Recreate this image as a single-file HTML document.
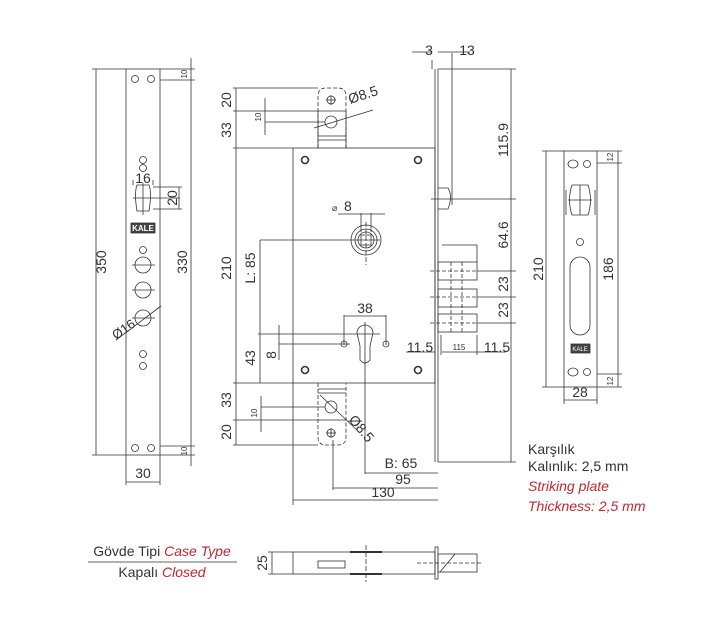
<!DOCTYPE html>
<html><head><meta charset="utf-8"><style>
html,body{margin:0;padding:0;background:#fff;}
svg{display:block}
text{font-family:"Liberation Sans",sans-serif;fill:#333;}
.r{fill:#c0282f;font-style:italic}
</style></head><body>
<svg width="720" height="622" viewBox="0 0 720 622" xmlns="http://www.w3.org/2000/svg">
<g stroke="#333" stroke-width="0.8" fill="none">
<!-- LEFT FACEPLATE -->
<rect x="126" y="69" width="34" height="386"/>
<line x1="92" y1="69" x2="126" y2="69"/><line x1="92" y1="455" x2="126" y2="455"/>
<line x1="96" y1="69" x2="96" y2="455"/>
<line x1="160" y1="80" x2="195" y2="80"/><line x1="160" y1="446" x2="195" y2="446"/>
<line x1="160" y1="69" x2="195" y2="69"/><line x1="160" y1="455" x2="195" y2="455"/>
<line x1="191" y1="58" x2="191" y2="466"/>
<line x1="126" y1="455" x2="126" y2="485"/><line x1="160" y1="455" x2="160" y2="485"/>
<line x1="126" y1="482" x2="160" y2="482"/>
<g>
<circle cx="135" cy="79" r="3.5"/><circle cx="151" cy="79" r="3.5"/>
<circle cx="135" cy="448" r="3.5"/><circle cx="151" cy="448" r="3.5"/>
<circle cx="143" cy="160" r="3.5"/><circle cx="143" cy="168" r="3.5"/>
<circle cx="143" cy="250" r="3.5"/>
<circle cx="143" cy="354" r="3.5"/><circle cx="143" cy="366" r="3.5"/>
</g>
<path d="M137,185 L149,185 Q152,193 149,211 L137,211 Q134,193 137,185 Z"/>
<line x1="133" y1="198" x2="180" y2="198"/><line x1="143" y1="183" x2="143" y2="215"/>
<line x1="133" y1="185" x2="133" y2="180"/><line x1="153" y1="185" x2="153" y2="180"/>
<line x1="153" y1="187" x2="182" y2="187"/><line x1="153" y1="209" x2="182" y2="209"/>
<line x1="179" y1="187" x2="179" y2="209"/>
<circle cx="143" cy="265" r="8"/><circle cx="143" cy="290" r="8"/><circle cx="143" cy="318" r="8"/>
<line x1="132" y1="265" x2="155" y2="265"/><line x1="132" y1="290" x2="155" y2="290"/><line x1="132" y1="318" x2="155" y2="318"/>
<line x1="116" y1="340" x2="161" y2="306"/>
<rect x="131" y="223" width="24" height="10" fill="#444"/>
<!-- MAIN LOCK BODY -->
<rect x="293" y="148" width="142" height="235"/>
<line x1="435" y1="69" x2="435" y2="462"/><line x1="438" y1="69" x2="438" y2="462"/>
<line x1="438" y1="69" x2="516" y2="69"/><line x1="438" y1="462" x2="516" y2="462"/>
<line x1="452" y1="53" x2="452" y2="205"/><line x1="432" y1="60" x2="432" y2="69"/>
<line x1="412" y1="52" x2="432" y2="52"/><line x1="438" y1="52" x2="470" y2="52"/>
<path d="M438,188 L448,188 Q453,196 448,209 L438,209"/>
<line x1="431" y1="199" x2="516" y2="199"/>
<line x1="511" y1="69" x2="511" y2="462"/>
<!-- bolts -->
<rect x="438" y="262" width="39" height="18"/>
<rect x="438" y="289" width="39" height="18"/>
<rect x="438" y="314" width="39" height="18"/>
<line x1="477" y1="271" x2="516" y2="271"/><line x1="477" y1="297" x2="516" y2="297"/><line x1="477" y1="323" x2="516" y2="323"/>
<line x1="442" y1="245" x2="477" y2="245"/><line x1="477" y1="245" x2="477" y2="262"/>
<line x1="442" y1="352" x2="506" y2="352"/>
<line x1="441" y1="335" x2="441" y2="355"/><line x1="477" y1="335" x2="477" y2="355"/>
<line x1="406" y1="352" x2="435" y2="352"/>
<g stroke-dasharray="4,2">
<line x1="430" y1="271" x2="477" y2="271"/><line x1="430" y1="297" x2="477" y2="297"/><line x1="430" y1="323" x2="477" y2="323"/>
<line x1="451" y1="262" x2="451" y2="332"/><line x1="462" y1="262" x2="462" y2="332"/>
</g>
<!-- strike tabs -->
<path d="M318,148 L318,96 Q318,88 326,88 L338,88 Q346,88 346,96 L346,148" stroke-dasharray="4,2"/>
<line x1="318" y1="111" x2="346" y2="111"/><line x1="318" y1="111" x2="318" y2="148"/><line x1="346" y1="111" x2="346" y2="148"/>
<line x1="318" y1="136" x2="346" y2="136"/><line x1="318" y1="140" x2="346" y2="140"/>
<circle cx="331" cy="100" r="4"/><line x1="326" y1="100" x2="336" y2="100"/><line x1="331" y1="95" x2="331" y2="105"/>
<circle cx="331" cy="122" r="6"/>
<line x1="314" y1="128" x2="373" y2="110"/>
<path d="M318,383 L318,437 Q318,445 326,445 L338,445 Q346,445 346,437 L346,383" stroke-dasharray="4,2"/>
<line x1="318" y1="420" x2="346" y2="420"/>
<line x1="318" y1="389" x2="346" y2="389"/><line x1="318" y1="393" x2="346" y2="393"/>
<circle cx="331" cy="407" r="6"/>
<circle cx="331" cy="433" r="4"/><line x1="326" y1="433" x2="336" y2="433"/><line x1="331" y1="428" x2="331" y2="438"/>
<line x1="320" y1="395" x2="360" y2="433"/>
<!-- left dims -->
<line x1="236" y1="88" x2="236" y2="445"/>
<line x1="233" y1="88" x2="318" y2="88"/><line x1="233" y1="111" x2="318" y2="111"/>
<line x1="233" y1="148" x2="293" y2="148"/><line x1="233" y1="383" x2="293" y2="383"/>
<line x1="233" y1="420" x2="318" y2="420"/><line x1="233" y1="445" x2="318" y2="445"/>
<line x1="265" y1="98" x2="265" y2="135"/><line x1="265" y1="122" x2="325" y2="122"/>
<line x1="261" y1="396" x2="261" y2="432"/><line x1="261" y1="407" x2="325" y2="407"/>
<line x1="260" y1="240" x2="260" y2="383"/><line x1="260" y1="240" x2="380" y2="240"/>
<line x1="258" y1="334" x2="380" y2="334"/>
<line x1="279" y1="325" x2="279" y2="360"/><line x1="279" y1="344" x2="350" y2="344"/>
<line x1="293" y1="383" x2="293" y2="505"/>
<!-- spindle -->
<circle cx="366" cy="240" r="15"/><circle cx="366" cy="240" r="11"/><circle cx="366" cy="240" r="8"/>
<rect x="361" y="235" width="10" height="10"/>
<line x1="361" y1="213" x2="361" y2="232"/><line x1="371" y1="213" x2="371" y2="232"/>
<line x1="338" y1="214" x2="385" y2="214"/>
<line x1="366" y1="222" x2="366" y2="265" stroke-dasharray="5,2"/>
<!-- cylinder -->
<path d="M357,333 A8,8 0 1 1 373,333 L370,346 L370,360 Q365,366 360,360 L360,346 Z"/>
<line x1="344" y1="315" x2="344" y2="345"/><line x1="386" y1="315" x2="386" y2="345"/>
<line x1="344" y1="316" x2="386" y2="316"/>
<circle cx="344" cy="344" r="3"/><circle cx="386" cy="344" r="3"/>
<line x1="365" y1="322" x2="365" y2="474"/>
<line x1="365" y1="473" x2="438" y2="473"/>
<line x1="333" y1="440" x2="333" y2="490"/>
<line x1="333" y1="488" x2="438" y2="488"/>
<line x1="293" y1="500" x2="438" y2="500"/>
<!-- body holes -->
<circle cx="305" cy="160" r="3.5" stroke-width="1.6"/><circle cx="418" cy="160" r="3.5" stroke-width="1.6"/>
<circle cx="305" cy="370" r="3.5" stroke-width="1.6"/><circle cx="418" cy="370" r="3.5" stroke-width="1.6"/>
<!-- RIGHT STRIKE PLATE -->
<rect x="564" y="151" width="33" height="236"/>
<line x1="542" y1="151" x2="564" y2="151"/><line x1="542" y1="387" x2="564" y2="387"/>
<line x1="546" y1="151" x2="546" y2="387"/>
<line x1="597" y1="163" x2="622" y2="163"/><line x1="597" y1="374" x2="622" y2="374"/>
<line x1="597" y1="151" x2="622" y2="151"/><line x1="597" y1="387" x2="622" y2="387"/>
<line x1="618" y1="151" x2="618" y2="387"/>
<line x1="564" y1="387" x2="564" y2="404"/><line x1="597" y1="387" x2="597" y2="404"/>
<line x1="564" y1="400" x2="597" y2="400"/>
<ellipse cx="573" cy="164" rx="5" ry="4"/><circle cx="587" cy="164" r="3.5"/>
<ellipse cx="573" cy="372" rx="5" ry="4"/><circle cx="587" cy="372" r="3.5"/>
<path d="M572,185 L588,185 Q593,200 588,215 L572,215 Q567,200 572,185 Z"/>
<line x1="568" y1="200" x2="592" y2="200"/><line x1="580" y1="185" x2="580" y2="215"/>
<circle cx="580" cy="242" r="3.5"/>
<path d="M570,267 A10,10 0 0 1 590,267 L590,325 A10,10 0 0 1 570,325 Z"/>
<line x1="566" y1="190" x2="566" y2="215"/><line x1="595" y1="190" x2="595" y2="215"/>
<rect x="571" y="344" width="19" height="9" fill="#444"/>
<!-- SIDE VIEW -->
<rect x="293" y="552" width="142" height="22"/>
<line x1="268" y1="552" x2="293" y2="552"/><line x1="268" y1="574" x2="293" y2="574"/>
<line x1="272" y1="552" x2="272" y2="574"/>
<rect x="435" y="547" width="3" height="32"/>
<rect x="438" y="554" width="39" height="18"/>
<rect x="318" y="561" width="27" height="7"/>
<line x1="440" y1="572" x2="455" y2="554"/>
<line x1="366" y1="545" x2="366" y2="582" stroke-dasharray="5,2"/>
<line x1="417" y1="563" x2="482" y2="563" stroke-dasharray="4,2"/>
<line x1="350" y1="552" x2="382" y2="552" stroke-width="2"/><line x1="350" y1="574" x2="382" y2="574" stroke-width="2"/>
<line x1="88" y1="562" x2="237" y2="562"/>
</g>
<g font-size="14">
<text x="101" y="262" transform="rotate(-90 101 262)" text-anchor="middle" dy="5">350</text>
<text x="182" y="262" transform="rotate(-90 182 262)" text-anchor="middle" dy="5">330</text>
<text x="143" y="478" text-anchor="middle">30</text>
<text x="143" y="183" text-anchor="middle">16</text>
<text x="172" y="198" transform="rotate(-90 172 198)" text-anchor="middle" dy="5">20</text>
<text x="116" y="340" transform="rotate(-35 116 340)" font-size="13">Ø16</text>
<text x="226" y="100" transform="rotate(-90 226 100)" text-anchor="middle" dy="5">20</text>
<text x="226" y="130" transform="rotate(-90 226 130)" text-anchor="middle" dy="5">33</text>
<text x="226" y="268" transform="rotate(-90 226 268)" text-anchor="middle" dy="5">210</text>
<text x="250" y="268" transform="rotate(-90 250 268)" text-anchor="middle" dy="5">L: 85</text>
<text x="250" y="358" transform="rotate(-90 250 358)" text-anchor="middle" dy="5">43</text>
<text x="271" y="355" transform="rotate(-90 271 355)" text-anchor="middle" dy="5">8</text>
<text x="226" y="400" transform="rotate(-90 226 400)" text-anchor="middle" dy="5">33</text>
<text x="226" y="432" transform="rotate(-90 226 432)" text-anchor="middle" dy="5">20</text>
<text x="350" y="104" transform="rotate(-18 350 104)">Ø8.5</text>
<text x="348" y="420" transform="rotate(50 348 420)">Ø8.5</text>
<text x="344" y="211">8</text><text x="332" y="211" font-size="9">⌀</text>
<text x="365" y="313" text-anchor="middle">38</text>
<text x="420" y="352" text-anchor="middle">11.5</text>
<text x="497" y="352" text-anchor="middle">11.5</text>
<text x="429" y="55" text-anchor="middle">3</text>
<text x="467" y="55" text-anchor="middle">13</text>
<text x="503" y="140" transform="rotate(-90 503 140)" text-anchor="middle" dy="5">115.9</text>
<text x="503" y="235" transform="rotate(-90 503 235)" text-anchor="middle" dy="5">64.6</text>
<text x="503" y="284" transform="rotate(-90 503 284)" text-anchor="middle" dy="5">23</text>
<text x="503" y="310" transform="rotate(-90 503 310)" text-anchor="middle" dy="5">23</text>
<text x="401" y="468" text-anchor="middle">B: 65</text>
<text x="403" y="484" text-anchor="middle">95</text>
<text x="383" y="497" text-anchor="middle">130</text>
<text x="538" y="269" transform="rotate(-90 538 269)" text-anchor="middle" dy="5">210</text>
<text x="608" y="269" transform="rotate(-90 608 269)" text-anchor="middle" dy="5">186</text>
<text x="580" y="397" text-anchor="middle">28</text>
<text x="528" y="454">Karşılık</text>
<text x="528" y="471">Kalınlık: 2,5 mm</text>
<text x="528" y="491" class="r">Striking plate</text>
<text x="528" y="511" class="r">Thickness: 2,5 mm</text>
<text x="162" y="556" text-anchor="middle">Gövde Tipi <tspan class="r">Case Type</tspan></text>
<text x="162" y="577" text-anchor="middle">Kapalı <tspan class="r">Closed</tspan></text>
<text x="262" y="563" transform="rotate(-90 262 563)" text-anchor="middle" dy="5">25</text>
</g>
<g font-size="8">
<text x="184" y="74" transform="rotate(-90 184 74)" text-anchor="middle" dy="3">10</text>
<text x="184" y="451" transform="rotate(-90 184 451)" text-anchor="middle" dy="3">10</text>
<text x="258" y="117" transform="rotate(-90 258 117)" text-anchor="middle" dy="3">10</text>
<text x="254" y="413" transform="rotate(-90 254 413)" text-anchor="middle" dy="3">10</text>
<text x="459" y="350" text-anchor="middle">115</text>
<text x="610" y="157" transform="rotate(-90 610 157)" text-anchor="middle" dy="3">12</text>
<text x="610" y="381" transform="rotate(-90 610 381)" text-anchor="middle" dy="3">12</text>
<text x="143" y="231" text-anchor="middle" fill="#fff" font-weight="bold" style="fill:#fff">KALE</text>
<text x="580" y="351" text-anchor="middle" font-size="6" style="fill:#fff">KALE</text>
</g>
</svg>
</body></html>
